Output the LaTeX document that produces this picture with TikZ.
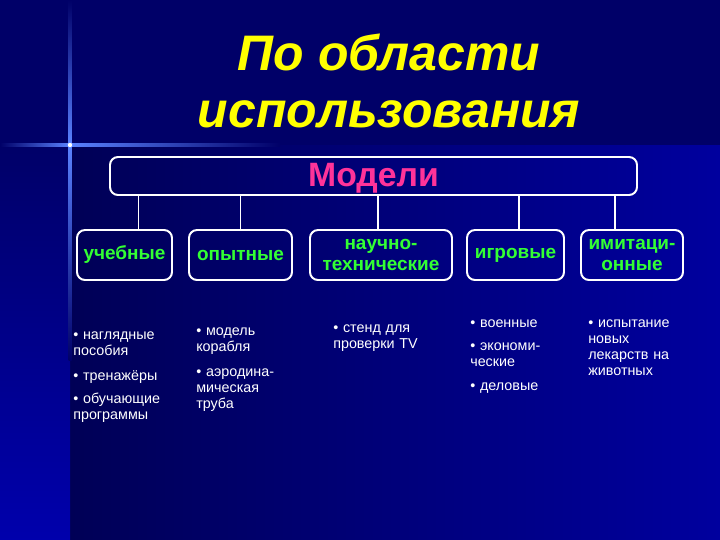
\documentclass[tikz,border=0pt]{standalone}
\usepackage{fontspec}
\setmainfont{Liberation Sans}
\definecolor{navy}{RGB}{0,0,104}
\definecolor{deepblue}{RGB}{0,0,86}
\definecolor{brightblue}{RGB}{0,0,158}
\definecolor{stripblue}{RGB}{0,0,172}
\definecolor{glowblue}{RGB}{90,130,255}
\definecolor{leafgreen}{RGB}{51,255,51}
\definecolor{modelpink}{RGB}{255,51,153}
\definecolor{titleyellow}{RGB}{255,255,0}
\begin{document}
\begin{tikzpicture}[x=0.25mm,y=-0.25mm,
  box/.style={draw=white,line width=1.4pt,rounded corners=2mm,inner sep=0pt,align=center},
  kind/.style={box,text=leafgreen,font=\bfseries\fontsize{13.5}{15.5}\selectfont,minimum height=12.5mm},
  itemlist/.style={anchor=base west,inner sep=0pt,text width=30mm,align=left,text=white,font=\fontsize{10.2}{11.4}\selectfont},
  link/.style={white,line width=1.4pt}]
\useasboundingbox (0,0) rectangle (720,540);
\fill[navy] (0,0) rectangle (720,540);
\shade[left color=deepblue,right color=brightblue] (70,145) rectangle (720,540);
\shade[top color=navy,bottom color=stripblue] (0,145) rectangle (70,540);
\shade[left color=navy,right color=glowblue] (0,143.5) rectangle (70,146.5);
\shade[left color=glowblue,right color=navy] (70,143.5) rectangle (280,146.5);
\shade[top color=navy,bottom color=glowblue] (68.5,0) rectangle (71.5,145);
\shade[top color=glowblue,bottom color=navy] (68.5,145) rectangle (71.5,360);
\fill[white] (70,145) circle (2.2);

\node[align=center,text=titleyellow,font=\bfseries\itshape\fontsize{35.5}{41}\selectfont] (title) at (389,81) {По области\\использования};

\node[box,minimum width=131.75mm,minimum height=9.5mm,text depth=2pt,text=modelpink,font=\bfseries\fontsize{24}{28}\selectfont] (models) at (373.5,176) {Модели};

\node[kind,minimum width=23.75mm] (learn) at (124.5,255) {учебные};
\node[kind,minimum width=25.75mm] (exper) at (240.5,255) {опытные};
\node[kind,minimum width=35.5mm] (sci) at (381,255) {научно-\\технические};
\node[kind,minimum width=24.25mm] (game) at (515.5,255) {игровые};
\node[kind,minimum width=25.5mm] (imit) at (632,255) {имитаци-\\онные};

\draw[link] ([xshift=3.5mm]learn.north) -- ([xshift=3.5mm]learn.north |- models.south);
\draw[link] (exper.north) -- (exper.north |- models.south);
\draw[link] ([xshift=-0.75mm]sci.north) -- ([xshift=-0.75mm]sci.north |- models.south);
\draw[link] ([xshift=0.9mm]game.north) -- ([xshift=0.9mm]game.north |- models.south);
\draw[link] ([xshift=-4.25mm]imit.north) -- ([xshift=-4.25mm]imit.north |- models.south);

\node[itemlist] (learnlist) at (73,339) {• наглядные\\пособия\\[7pt]• тренажёры\\[5pt]• обучающие\\программы};
\node[itemlist] (explist) at (196,335) {• модель\\корабля\\[7pt]• аэродина-\\мическая\\труба};
\node[itemlist] (scilist) at (333,332) {• стенд для\\проверки TV};
\node[itemlist] (gamelist) at (470,327) {• военные\\[5pt]• экономи-\\ческие\\[6pt]• деловые};
\node[itemlist] (imitlist) at (588,327) {• испытание\\новых\\лекарств на\\животных};
\end{tikzpicture}
\end{document}
